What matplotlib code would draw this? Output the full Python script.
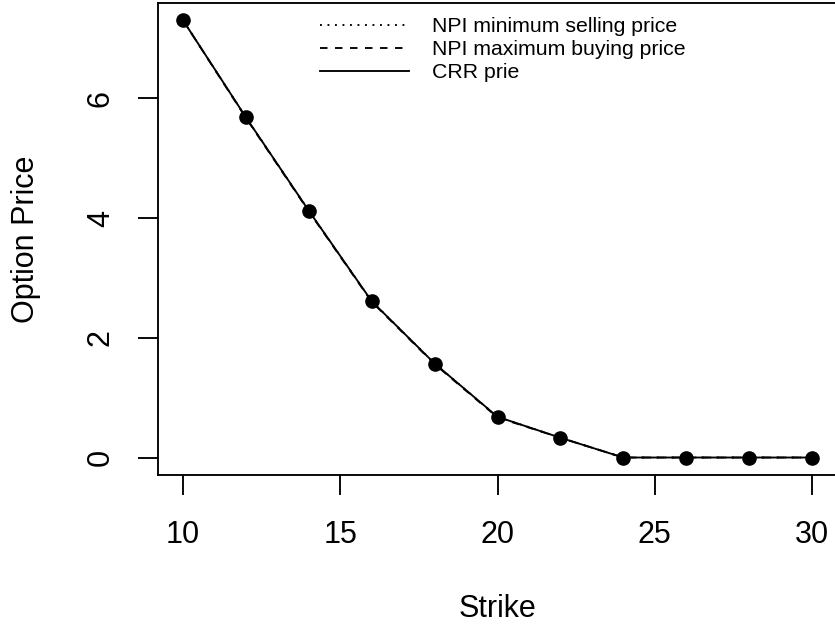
import matplotlib
matplotlib.use("Agg")
import matplotlib.pyplot as plt

plt.rcParams['font.family'] = ['Liberation Sans', 'DejaVu Sans']

# Strike grid and the three price curves
strikes = [10, 12, 14, 16, 18, 20, 22, 24, 26, 28, 30]
npi_min_sell = [7.30, 5.68, 4.12, 2.61, 1.57, 0.68, 0.33, 0.0, 0.0, 0.0, 0.0]
npi_max_buy = [7.30, 5.67, 4.11, 2.60, 1.56, 0.67, 0.33, 0.0, 0.0, 0.0, 0.0]
crr_price = [7.30, 5.68, 4.12, 2.61, 1.57, 0.68, 0.33, 0.0, 0.0, 0.0, 0.0]

x_ticks = [10, 15, 20, 25, 30]
y_ticks = [0, 2, 4, 6]

lw = 1.35

fig = plt.figure(figsize=(8.35, 6.28), dpi=100)
ax = fig.add_axes([158 / 835, 153 / 628, 679 / 835, 472 / 628])

ax.plot(strikes, npi_min_sell, color='black', lw=lw, linestyle=(0, (1, 3)),
        label='NPI minimum selling price')
ax.plot(strikes, npi_max_buy, color='black', lw=lw, linestyle=(0, (4, 4)),
        label='NPI maximum buying price')
ax.plot(strikes, crr_price, color='black', lw=lw, linestyle='-',
        label='CRR prie')
ax.plot(strikes, crr_price, 'o', color='black', markersize=9.5)

ax.set_xlim(9.2, 30.8)
ax.set_ylim(-0.292, 7.592)
ax.set_xticks(x_ticks)
ax.set_yticks(y_ticks)

for s in ax.spines.values():
    s.set_linewidth(lw)

ax.tick_params(axis='both', length=14.4, width=lw, labelsize=22, direction='out')
ax.tick_params(axis='x', pad=18)
ax.tick_params(axis='y', pad=16, labelrotation=90)
for t in ax.get_yticklabels():
    t.set_va('center')

ax.set_xlabel('Strike', fontsize=22, labelpad=32)
ax.set_ylabel('Option Price', fontsize=22, labelpad=32)

ax.legend(loc='upper left', bbox_to_anchor=(162 / 679, (475 - 17) / 472),
          frameon=False, fontsize=15.3, handlelength=4.2, handletextpad=1.05,
          labelspacing=0.2, borderpad=0, borderaxespad=0)

fig.savefig('out.png', dpi=100)
